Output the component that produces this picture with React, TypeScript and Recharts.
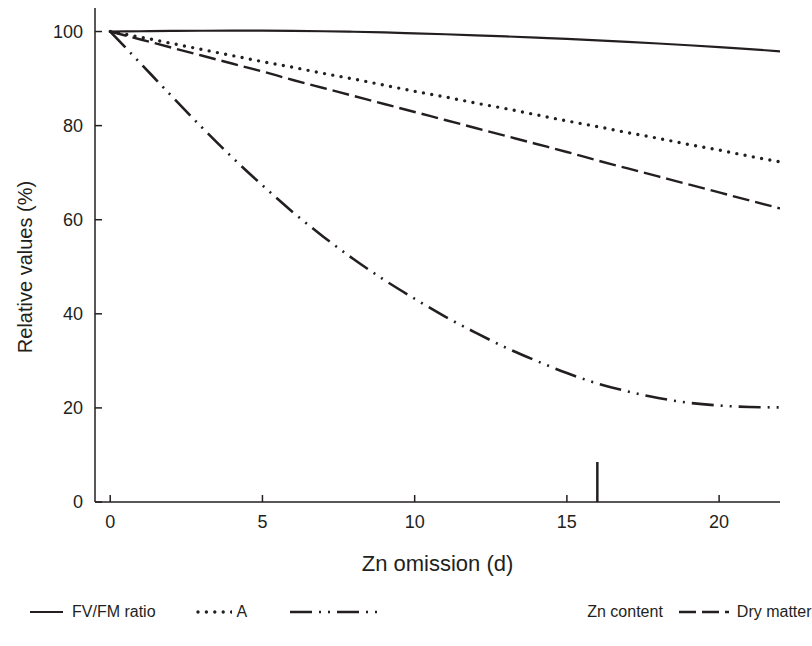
import React from 'react';
import { LineChart, Line, XAxis, YAxis, Legend, ReferenceLine } from 'recharts';

const days = [0, 1, 2, 3, 4, 5, 6, 7, 8, 9, 10, 11, 12, 13, 14, 15, 16, 17, 18, 19, 20, 21, 22];
const fvfm = [100, 100.06, 100.12, 100.16, 100.18, 100.18, 100.14, 100.06, 99.95, 99.8, 99.62, 99.42, 99.2, 98.96, 98.7, 98.42, 98.12, 97.8, 97.45, 97.08, 96.68, 96.26, 95.8];
const assim = [100, 98.8, 97.5, 96.2, 94.9, 93.6, 92.4, 91.1, 89.9, 88.6, 87.3, 86.1, 84.8, 83.6, 82.3, 81.0, 79.8, 78.5, 77.3, 76.0, 74.8, 73.5, 72.3];
const znContent = [100, 93.2, 86.4, 79.7, 73.3, 67.3, 61.6, 56.4, 51.6, 47.2, 43.2, 39.4, 36, 32.8, 30, 27.4, 25.2, 23.5, 22.1, 21.1, 20.5, 20.2, 20.1];
const dryMatter = [100, 98.3, 96.6, 94.9, 93.2, 91.5, 89.7, 88.0, 86.3, 84.6, 82.9, 81.2, 79.5, 77.8, 76.1, 74.4, 72.6, 70.9, 69.2, 67.5, 65.8, 64.1, 62.4];
const xTicks = [0, 5, 10, 15, 20];
const yTicks = [0, 20, 40, 60, 80, 100];
const markerDay = 16;
const markerHeight = 8.5;

const data = days.map((d, i) => ({
  day: d,
  fvfm: fvfm[i],
  a: assim[i],
  zn: znContent[i],
  dm: dryMatter[i],
}));

const INK = '#231f20';
const FONT = '"Liberation Sans", Arial, sans-serif';

const styles = {
  fvfm: { dash: undefined as string | undefined, width: 2.2, cap: 'butt' as const },
  a: { dash: '0 8.4', width: 3.4, cap: 'round' as const },
  zn: { dash: '22 7 2 7 2 7', width: 2.6, cap: 'butt' as const },
  dm: { dash: '17 6', width: 2.4, cap: 'butt' as const },
};

const legendItems = [
  { key: 'fvfm', label: 'FV/FM ratio', lineW: 33, gap: 9, after: 40 },
  { key: 'a', label: 'A', lineW: 36, gap: 5, after: 43 },
  { key: 'zn', label: 'Zn content', lineW: 88, gap: 209, after: 16 },
  { key: 'dm', label: 'Dry matter', lineW: 50, gap: 8, after: 0 },
];

const LegendContent = () => (
  <div style={{ display: 'flex', alignItems: 'center', fontFamily: FONT, fontSize: 16, color: INK, paddingLeft: 30, height: 19 }}>
    {legendItems.map((it) => {
      const s = (styles as any)[it.key];
      return (
        <div key={it.key} style={{ display: 'flex', alignItems: 'center', marginRight: it.after }}>
          <svg width={it.lineW} height={10} style={{ marginRight: it.gap }}>
            <line x1={s.cap === 'round' ? 2 : 0} y1={5} x2={it.lineW} y2={5} stroke={INK} strokeWidth={s.width} strokeDasharray={s.dash} strokeLinecap={s.cap} />
          </svg>
          <span style={{ whiteSpace: 'nowrap' }}>{it.label}</span>
        </div>
      );
    })}
  </div>
);

export default function App() {
  return (
    <div style={{ position: 'absolute', left: 0, top: 0, background: '#fff' }}>
      <LineChart width={812} height={646} data={data} margin={{ top: 8, right: 32, left: 40, bottom: 77 }}>
        <XAxis
          dataKey="day"
          type="number"
          domain={[-0.5, 22]}
          ticks={xTicks}
          allowDataOverflow
          stroke={INK}
          strokeWidth={1.5}
          tickSize={-7}
          tickMargin={20}
          height={48}
          tick={{ fill: INK, fontSize: 18, fontFamily: FONT }}
          label={(props: any) => {
            const vb = props.viewBox;
            return (
              <text x={vb.x + vb.width / 2} y={571} textAnchor="middle" fill={INK} fontSize={22} fontFamily={FONT}>
                Zn omission (d)
              </text>
            );
          }}
        />
        <YAxis
          type="number"
          domain={[0, 105]}
          ticks={yTicks}
          allowDataOverflow
          stroke={INK}
          strokeWidth={1.5}
          tickSize={-7}
          tickMargin={19}
          width={55}
          tick={{ fill: INK, fontSize: 18, fontFamily: FONT }}
          label={(props: any) => {
            const vb = props.viewBox;
            const cy = vb.y + vb.height / 2 + 12;
            return (
              <text x={32} y={cy} transform={`rotate(-90 32 ${cy})`} textAnchor="middle" fill={INK} fontSize={20} fontFamily={FONT}>
                Relative values (%)
              </text>
            );
          }}
        />
        <ReferenceLine
          segment={[{ x: markerDay, y: 0 }, { x: markerDay, y: markerHeight }]}
          stroke={INK}
          strokeWidth={2.5}
        />
        <Line dataKey="fvfm" type="monotone" stroke={INK} strokeWidth={styles.fvfm.width} dot={false} isAnimationActive={false} />
        <Line dataKey="a" type="monotone" stroke={INK} strokeWidth={styles.a.width} strokeDasharray={styles.a.dash} strokeLinecap="round" dot={false} isAnimationActive={false} />
        <Line dataKey="zn" type="monotone" stroke={INK} strokeWidth={styles.zn.width} strokeDasharray={styles.zn.dash} dot={false} isAnimationActive={false} />
        <Line dataKey="dm" type="monotone" stroke={INK} strokeWidth={styles.dm.width} strokeDasharray={styles.dm.dash} dot={false} isAnimationActive={false} />
        <Legend content={<LegendContent />} wrapperStyle={{ left: 0, top: 602, width: 812 }} />
      </LineChart>
    </div>
  );
}
